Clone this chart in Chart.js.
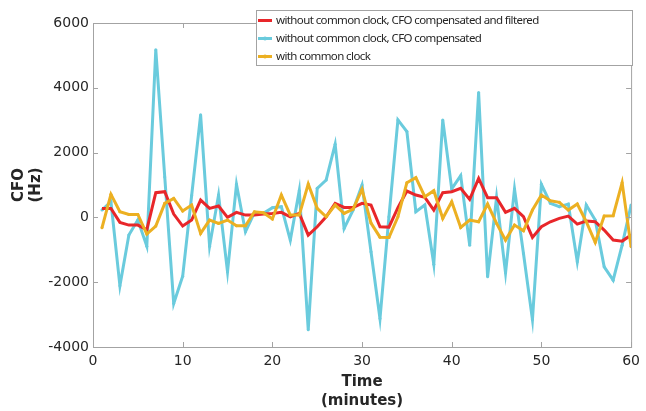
<!DOCTYPE html>
<html>
<head>
<meta charset="utf-8">
<script src="https://cdn.jsdelivr.net/npm/chart.js@4.4.1/dist/chart.umd.min.js"></script>
<style>
  body { margin: 0; background: #fff; }
  #wrap { width: 646px; height: 411px; position: relative; }
</style>
</head>
<body>
<div id="wrap"><canvas id="cfoChart"></canvas></div>
<script>
// Data (minutes, Hz)
const minutes = [1, 2, 3, 4, 5, 6, 7, 8, 9, 10, 11, 12, 13, 14, 15, 16, 17, 18, 19, 20,
    21, 22, 23, 24, 25, 26, 27, 28, 29, 30, 31, 32, 33, 34, 35, 36, 37, 38, 39, 40,
    41, 42, 43, 44, 45, 46, 47, 48, 49, 50, 51, 52, 53, 54, 55, 56, 57, 58, 59, 60];

const filteredCfo = [278, 278, -155, -237, -237, -380, 763, 794, 103, -268,
    -82, 536, 278, 350, 0, 155, 72, 72, 103, 120,
    155, 20, 124, -546, -289, 20, 433, 309, 309, 433,
    380, -290, -300, 300, 813, 690, 618, 227, 763, 794,
    897, 557, 1206, 608, 608, 155, 278, 20, -619, -289,
    -134, -31, 41, -206, -113, -134, -392, -701, -732, -546];

const compensatedCfo = [227, 485, -2113, -546, -82, -887, 5175, 1250, -2660, -1814,
    675, 3165, -887, 690, -1680, 1020, -443, 144, 124, 300,
    330, -700, 825, -3464, 897, 1155, 2258, -340, 227, 1000,
    -1060, -3124, 20, 3010, 2649, 175, 381, -1443, 3010, 880,
    1289, -856, 3856, -1835, 619, -1711, 876, -1113, -3155, 1021,
    433, 330, 412, -1371, 381, -82, -1526, -1938, -856, 381];

const commonClockCfo = [-320, 711, 175, 93, 93, -515, -268, 433, 588, 196,
    381, -495, -82, -186, -82, -258, -258, 175, 144, -50,
    690, 72, 72, 1030, 278, 20, 381, 124, 258, 866,
    -176, -610, -620, 20, 1071, 1226, 639, 825, -31, 485,
    -309, -82, -134, 412, -186, -701, -237, -412, 227, 691,
    515, 464, 227, 412, -134, -773, 41, 52, 1072, -907];

const seriesNames = [
    'without common clock, CFO compensated and filtered',
    'without common clock, CFO compensated',
    'with common clock'
];

const xTicks = [0, 10, 20, 30, 40, 50, 60];
const yTicks = [-4000, -2000, 0, 2000, 4000, 6000];

const RED = '#e8262a';
const CYAN = '#6acbdd';
const ORANGE = '#ecb022';
const AXIS = '#a3a3a3';
const TEXT = '#262626';

function toPoints(values) {
    return values.map((v, i) => ({ x: minutes[i], y: v }));
}

// box around the axes with inward ticks, MATLAB style
const boxPlugin = {
    id: 'boxPlugin',
    afterDatasetsDraw(chart) {
        const { ctx, chartArea: a, scales } = chart;
        ctx.save();
        ctx.strokeStyle = AXIS;
        ctx.lineWidth = 1;
        ctx.strokeRect(a.left + 0.5, a.top + 0.5, a.right - a.left, a.bottom - a.top);
        ctx.beginPath();
        xTicks.forEach(t => {
            const px = Math.round(scales.x.getPixelForValue(t)) + 0.5;
            ctx.moveTo(px, a.bottom); ctx.lineTo(px, a.bottom - 5);
            ctx.moveTo(px, a.top); ctx.lineTo(px, a.top + 5);
        });
        yTicks.forEach(t => {
            const py = Math.round(scales.y.getPixelForValue(t)) + 0.5;
            ctx.moveTo(a.left, py); ctx.lineTo(a.left + 5, py);
            ctx.moveTo(a.right, py); ctx.lineTo(a.right - 5, py);
        });
        ctx.stroke();
        ctx.restore();
    }
};

// legend box in the upper right
const legendPlugin = {
    id: 'legendBox',
    afterDatasetsDraw(chart) {
        const { ctx } = chart;
        const x0 = 256, y0 = 10, w = 376, h = 55;
        ctx.save();
        ctx.fillStyle = '#fff';
        ctx.fillRect(x0, y0, w, h);
        ctx.strokeStyle = AXIS;
        ctx.lineWidth = 1;
        ctx.strokeRect(x0 + 0.5, y0 + 0.5, w, h);
        ctx.font = '11.5px "Noto Sans"';
        ctx.letterSpacing = '-0.6px';
        ctx.textBaseline = 'middle';
        chart.data.datasets.forEach((ds, i) => {
            const y = y0 + 10.5 + i * 18;
            ctx.strokeStyle = ds.borderColor;
            ctx.lineWidth = 3;
            ctx.beginPath();
            ctx.moveTo(x0 + 2, y);
            ctx.lineTo(x0 + 16, y);
            ctx.stroke();
            if (ds.pointRadius > 0) {
                ctx.fillStyle = ds.borderColor;
                ctx.beginPath();
                ctx.arc(x0 + 9, y, 2, 0, Math.PI * 2);
                ctx.fill();
            }
            ctx.fillStyle = TEXT;
            ctx.fillText(ds.label, x0 + 20, y);
        });
        ctx.restore();
    }
};

const cfoChart = new Chart(document.getElementById('cfoChart'), {
    type: 'line',
    data: {
        datasets: [
            {
                label: seriesNames[0],
                data: toPoints(filteredCfo),
                borderColor: RED,
                backgroundColor: RED,
                borderWidth: 3,
                pointRadius: 0,
                order: 1
            },
            {
                label: seriesNames[1],
                data: toPoints(compensatedCfo),
                borderColor: CYAN,
                backgroundColor: CYAN,
                borderWidth: 3,
                pointRadius: 1.5,
                pointBorderWidth: 0,
                order: 2
            },
            {
                label: seriesNames[2],
                data: toPoints(commonClockCfo),
                borderColor: ORANGE,
                backgroundColor: ORANGE,
                borderWidth: 3,
                pointRadius: 1.5,
                pointBorderWidth: 0,
                order: 0
            }
        ]
    },
    options: {
        responsive: true,
        maintainAspectRatio: false,
        animation: false,
        layout: { padding: { top: 23, right: 13, left: 0, bottom: 0 } },
        plugins: {
            legend: { display: false },
            tooltip: { enabled: false }
        },
        scales: {
            x: {
                type: 'linear',
                min: 0,
                max: 60,
                afterBuildTicks: (scale) => { scale.ticks = xTicks.map(v => ({ value: v })); },
                afterFit: (scale) => { scale.height = 64; },
                grid: { display: false, drawTicks: false },
                border: { display: false },
                ticks: {
                    padding: 6,
                    color: TEXT,
                    font: { family: 'DejaVu Sans', size: 14 },
                    maxRotation: 0,
                    callback: (v) => String(v)
                },
                title: {
                    display: true,
                    text: ['Time', '(minutes)'],
                    color: TEXT,
                    padding: { top: 0, bottom: 0 },
                    font: { family: 'DejaVu Sans', size: 15, weight: 'bold', lineHeight: 1.27 }
                }
            },
            y: {
                min: -4000,
                max: 6000,
                afterBuildTicks: (scale) => { scale.ticks = yTicks.map(v => ({ value: v })); },
                afterFit: (scale) => { scale.width = 93; },
                grid: { display: false, drawTicks: false },
                border: { display: false },
                ticks: {
                    padding: 4,
                    color: TEXT,
                    font: { family: 'DejaVu Sans', size: 14 },
                    callback: (v) => String(v)
                },
                title: {
                    display: true,
                    text: ['CFO', '(Hz)'],
                    color: TEXT,
                    padding: { top: 11, bottom: 0 },
                    font: { family: 'DejaVu Sans', size: 15, weight: 'bold', lineHeight: 1.13 }
                }
            }
        }
    },
    plugins: [boxPlugin, legendPlugin]
});
</script>
</body>
</html>
